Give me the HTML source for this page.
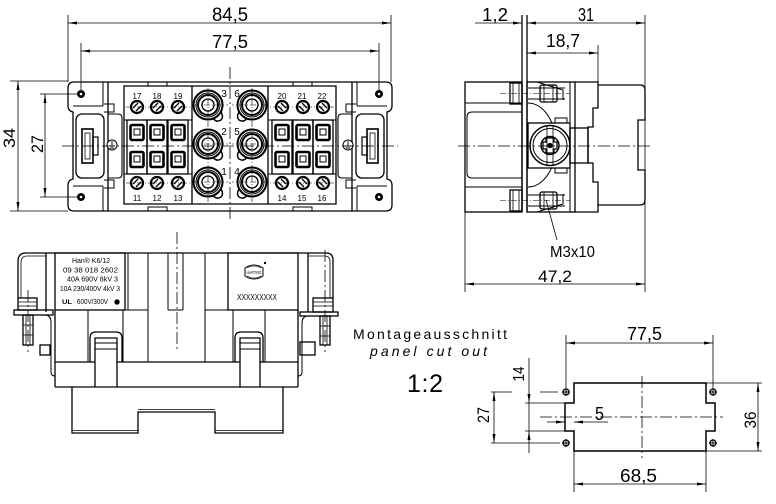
<!DOCTYPE html>
<html><head><meta charset="utf-8"><style>
html,body{margin:0;padding:0;background:#fff;}
svg{display:block}
text{font-family:"Liberation Sans",sans-serif;fill:#000;stroke:none}
</style></head><body>
<svg width="776" height="504" viewBox="0 0 776 504" xmlns="http://www.w3.org/2000/svg">
<defs>
<marker id="a" viewBox="0 0 9 3" refX="9" refY="1.5" markerWidth="9" markerHeight="3" markerUnits="userSpaceOnUse" orient="auto-start-reverse"><path d="M0,0L9,1.5L0,3z" fill="#000"/></marker>

<g id="h" fill="none" stroke="#000">
 <path stroke-width="1.3" d="M230,82 H74 Q68,82 68,88 V106 Q68,111 73,112 V179 Q68,180 68,185 V205 Q68,211 74,211 H230"/>
 <line x1="108" y1="82" x2="108" y2="211" stroke-width="1.3"/>
 <path stroke-width="1" d="M103,82 V106 M103,186 V211 M73,106 H103 M73,186 H103"/>
 <rect x="76" y="114" width="28" height="64" rx="6" stroke-width="1.3"/>
 <rect x="82" y="129" width="11" height="34" stroke-width="1.6"/>
 <rect x="85" y="133" width="5" height="26" stroke-width="0.8"/>
 <rect x="93" y="137" width="5" height="18" stroke-width="1.2"/>
 <path stroke-width="1" d="M104,104 H114 V112 H104 M104,180 H114 V188 H104"/>
 <path stroke-width="1.1" d="M108,114 H118 Q122,114 122,118 V174 Q122,178 118,178 H108"/>
 <circle cx="112" cy="145" r="5" fill="#fff" stroke-width="1"/>
 <path stroke-width="0.9" d="M112,141 V146 M109,146 H115 M110,148 H114"/>
 <circle cx="81" cy="94" r="4" fill="#000" stroke="none"/>
 <circle cx="81" cy="94" r="1.3" fill="#fff" stroke="none"/>
 <circle cx="81" cy="197" r="4" fill="#000" stroke="none"/>
 <circle cx="81" cy="197" r="1.3" fill="#fff" stroke="none"/>
 <rect x="148" y="82" width="19" height="4" stroke-width="1"/>
 <rect x="148" y="207" width="19" height="4" stroke-width="1"/>
 <path stroke-width="1.3" d="M230,86 H124 V204 H230 M192,86 V204"/>
 <path stroke-width="1" d="M124,120 H192 M124,174 H192"/>
 <path stroke-width="0.6" stroke-dasharray="6 2 1 2" d="M126,107 H190 M126,183 H190"/>
 <g stroke-width="1.3">
  <rect x="127" y="120" width="20" height="54"/>
  <rect x="147" y="120" width="20" height="54"/>
  <rect x="168" y="120" width="20" height="54"/>
 </g>
 <g stroke-width="2.6">
  <rect x="130.5" y="125" width="13" height="15" rx="1.5"/>
  <rect x="130.5" y="152" width="13" height="15" rx="1.5"/>
  <rect x="150.5" y="125" width="13" height="15" rx="1.5"/>
  <rect x="150.5" y="152" width="13" height="15" rx="1.5"/>
  <rect x="171.5" y="125" width="13" height="15" rx="1.5"/>
  <rect x="171.5" y="152" width="13" height="15" rx="1.5"/>
 </g>
 <g stroke-width="1">
  <rect x="134" y="129" width="6" height="6"/><rect x="134" y="156" width="6" height="6"/>
  <rect x="154" y="129" width="6" height="6"/><rect x="154" y="156" width="6" height="6"/>
  <rect x="175" y="129" width="6" height="6"/><rect x="175" y="156" width="6" height="6"/>
 </g>
 <g stroke-width="2.2">
  <circle cx="137" cy="107" r="6"/><circle cx="157" cy="107" r="6"/><circle cx="178" cy="107" r="6"/>
  <circle cx="137" cy="183" r="6"/><circle cx="157" cy="183" r="6"/><circle cx="178" cy="183" r="6"/>
 </g>
 <g stroke-width="1.4">
  <path d="M133,108 L138,103 M136,111 L141,106 M153,108 L158,103 M156,111 L161,106 M174,108 L179,103 M177,111 L182,106"/>
  <path d="M133,184 L138,179 M136,187 L141,182 M153,184 L158,179 M156,187 L161,182 M174,184 L179,179 M177,187 L182,182"/>
 </g>
 <path stroke-width="0.6" stroke-dasharray="6 2 1 2" d="M193,105 H228 M193,144 H228 M193,182 H228 M208,88 V202"/>
 <g>
  <circle cx="208" cy="105" r="14.5" stroke-width="2"/><circle cx="208" cy="105" r="12" stroke-width="1"/><circle cx="208" cy="105" r="10" stroke-width="2"/><circle cx="208" cy="105" r="6" stroke-width="1.3"/>
  <path stroke-width="1.5" d="M213,118 q3,5 8,2 q3,-3 0,-8"/>
  <circle cx="208" cy="144" r="14.5" stroke-width="2"/><circle cx="208" cy="144" r="12" stroke-width="1"/><circle cx="208" cy="144" r="10" stroke-width="2"/><circle cx="208" cy="144" r="6" stroke-width="1.3"/>
  <path stroke-width="1.5" d="M213,157 q3,5 8,2 q3,-3 0,-8"/>
  <circle cx="208" cy="182" r="14.5" stroke-width="2"/><circle cx="208" cy="182" r="12" stroke-width="1"/><circle cx="208" cy="182" r="10" stroke-width="2"/><circle cx="208" cy="182" r="6" stroke-width="1.3"/>
  <path stroke-width="1.5" d="M213,195 q3,5 8,2 q3,-3 0,-8"/>
 </g>
</g>
</defs>
<rect width="776" height="504" fill="#fff"/>

<!-- ============ TOP VIEW ============ -->
<use href="#h"/>
<use href="#h" transform="translate(460,0) scale(-1,1)"/>

<g fill="none" stroke="#000" stroke-width="0.8">
 <path d="M68,15 V82 M391,15 V82 M81,43 V90 M379,43 V90 M10,81 H68 M10,211 H68 M40,94 H77 M40,197 H77"/>
 <line x1="68" y1="23" x2="391" y2="23" marker-start="url(#a)" marker-end="url(#a)"/>
 <line x1="81" y1="51" x2="379" y2="51" marker-start="url(#a)" marker-end="url(#a)"/>
 <line x1="18" y1="81" x2="18" y2="211" marker-start="url(#a)" marker-end="url(#a)"/>
 <line x1="45" y1="94" x2="45" y2="197" marker-start="url(#a)" marker-end="url(#a)"/>
 <path stroke-dasharray="12 3 2 3" d="M230,67 V220 M62,146 H398"/>
</g>
<text x="212" y="21" font-size="19" textLength="36" lengthAdjust="spacingAndGlyphs">84,5</text>
<text x="212" y="48" font-size="18" textLength="36" lengthAdjust="spacingAndGlyphs">77,5</text>
<text transform="translate(15,138) rotate(-90)" text-anchor="middle" font-size="17" textLength="20" lengthAdjust="spacingAndGlyphs">34</text>
<text transform="translate(43,144) rotate(-90)" text-anchor="middle" font-size="17" textLength="18" lengthAdjust="spacingAndGlyphs">27</text>
<g font-size="8" text-anchor="middle">
 <text x="137" y="99">17</text><text x="157" y="99">18</text><text x="178" y="99">19</text>
 <text x="282" y="99">20</text><text x="302" y="99">21</text><text x="322" y="99">22</text>
 <text x="137" y="201">11</text><text x="157" y="201">12</text><text x="178" y="201">13</text>
 <text x="282" y="201">14</text><text x="302" y="201">15</text><text x="322" y="201">16</text>
</g>
<g font-size="10" text-anchor="middle">
 <text x="224" y="97">3</text><text x="237" y="97">6</text>
 <text x="224" y="135">2</text><text x="237" y="135">5</text>
 <text x="224" y="175">1</text><text x="237" y="175">4</text>
</g>

<!-- ============ SIDE VIEW ============ -->
<g fill="none" stroke="#000" stroke-width="1.3">
 <rect x="465" y="82" width="57" height="130"/>
 <path stroke-width="1" d="M465,103 H522 M522,112 H472 Q467,112 467,117 V173 Q467,178 472,178 H522 M465,187 H522"/>
 <path d="M522,15 V212 M527,15 V212"/>
 <rect x="527" y="82" width="48" height="130"/>
 <line x1="570" y1="82" x2="570" y2="212" stroke-width="1"/>
 <rect x="510" y="83" width="12" height="21"/>
 <path stroke-width="0.8" d="M513,83 V104 M519,83 V104"/>
 <path stroke-width="1" d="M528,88 H565 M528,99 H565"/>
 <rect x="540" y="85" width="17" height="17" rx="2"/>
 <path stroke-width="0.8" d="M544,85 V102 M553,85 V102"/>
 <path stroke-width="1" d="M537,82 L563,90 V100"/>
 <rect x="510" y="190" width="12" height="21"/>
 <path stroke-width="0.8" d="M513,190 V211 M519,190 V211"/>
 <path stroke-width="1" d="M528,195 H565 M528,206 H565"/>
 <rect x="540" y="192" width="17" height="17" rx="2"/>
 <path stroke-width="0.8" d="M544,192 V209 M553,192 V209"/>
 <path stroke-width="1" d="M537,212 L563,204 V194"/>
 <path stroke-width="0.6" stroke-dasharray="6 2 1 2" d="M500,93.5 H570 M500,200.5 H570"/>
 <path stroke-width="1" d="M528,103 A28,42 0 0 1 528,187"/>
 <rect x="528" y="123" width="42" height="45" fill="#fff"/>
 <circle cx="550" cy="145.5" r="20" stroke-width="1.5"/>
 <circle cx="550" cy="145.5" r="17" stroke-width="1"/>
 <circle cx="550" cy="145.5" r="9" stroke-width="1.4"/>
 <path stroke-width="0.8" d="M547,126 V165 M553,126 V165"/>
 <path stroke-width="1.3" d="M546,138 H554 V142 H557 V149 H554 V153 H546 V149 H543 V142 H546 Z"/>
 <circle cx="550" cy="145.5" r="2" fill="#000"/>
 <rect x="555" y="118" width="12" height="5" stroke-width="1"/>
 <rect x="555" y="168" width="12" height="5" stroke-width="1"/>
 <rect x="570" y="128" width="18" height="35"/>
 <path d="M575,82 H598 V108 H593 V127 H588 V163 H593 V182 H598 V212 H575"/>
 <path d="M598,85 H640 Q645,85 645,90 V120 H638 V170 H645 V200 Q645,205 640,205 H598"/>
</g>
<g fill="none" stroke="#000" stroke-width="0.8">
 <path d="M645,15 V292 M598,45 V82 M465,212 V292"/>
 <line x1="475" y1="23" x2="522" y2="23" marker-end="url(#a)"/>
 <line x1="527" y1="23" x2="645" y2="23" marker-start="url(#a)" marker-end="url(#a)"/>
 <line x1="527" y1="53" x2="598" y2="53" marker-start="url(#a)" marker-end="url(#a)"/>
 <line x1="465" y1="284" x2="645" y2="284" marker-start="url(#a)" marker-end="url(#a)"/>
 <path d="M546,200 L557,240"/>
 <path stroke-dasharray="12 3 2 3" d="M458,146 H653"/>
</g>
<text x="482" y="21" font-size="18" textLength="26" lengthAdjust="spacingAndGlyphs">1,2</text>
<text x="578" y="21" font-size="18" textLength="16" lengthAdjust="spacingAndGlyphs">31</text>
<text x="546" y="47" font-size="18" textLength="34" lengthAdjust="spacingAndGlyphs">18,7</text>
<text x="550" y="257" font-size="16" textLength="45" lengthAdjust="spacingAndGlyphs">M3x10</text>
<text x="538" y="282" font-size="17" textLength="34" lengthAdjust="spacingAndGlyphs">47,2</text>

<!-- ============ FRONT VIEW ============ -->
<g fill="none" stroke="#000" stroke-width="1.3">
 <path d="M46,253 H308"/>
 <path d="M46,253 H26 Q18,253 18,261 V298"/>
 <path stroke-width="0.8" d="M46,256 H27 Q21,256 21,263 V298"/>
 <path d="M308,253 H326 Q333,253 333,260 V298"/>
 <path stroke-width="0.8" d="M308,256 H325 Q330,256 330,262 V298"/>
 <path d="M46,253 V312 M308,253 V312"/>
 <rect x="55" y="253" width="70" height="57"/>
 <rect x="228" y="253" width="70" height="57"/>
 <path stroke-width="1" d="M128,253 V310 M148,253 V362 M168,253 V310 M183,253 V310 M205,253 V362 M125,310 H148 M168,310 H183 M205,310 H228"/>
 <path d="M55,310 V387 M298,310 V387 M55,387 H298 M55,362 H95 M117,362 H240 M260,362 H298"/>
 <path stroke-width="1" d="M88,310 V362 M123,310 V362 M233,310 V362 M265,310 V362"/>
 <path d="M90,362 V338 Q90,332 96,332 H116 Q122,332 122,338 V362"/>
 <path d="M235,362 V338 Q235,332 241,332 H257 Q263,332 263,338 V362"/>
 <path d="M95,387 V338 H117 V387 M240,387 V338 H260 V387"/>
 <path stroke-width="0.9" d="M95,343 H117 M95,349 H117 M240,343 H260 M240,349 H260"/>
 <path d="M72,387 V433 H138 V412 H215 V433 H283 V387"/>
 <path stroke-width="0.8" d="M72,430.5 H138 M215,430.5 H283 M138,409.5 H215"/>
 <rect x="18" y="298" width="19" height="12"/>
 <path stroke-width="0.8" d="M18,302 H37 M18,306 H37"/>
 <rect x="14" y="310" width="39" height="5"/>
 <rect x="23" y="315" width="10" height="30"/>
 <path stroke-width="0.8" d="M26,315 V345 M30,315 V345 M23,325 H33 M23,335 H33"/>
 <rect x="40" y="345" width="10" height="10"/>
 <path stroke-width="1" d="M46,315 Q51,316 51,322 V372 Q51,376 55,376"/>
 <rect x="313" y="298" width="20" height="14"/>
 <path stroke-width="0.8" d="M313,302 H333 M313,306 H333"/>
 <rect x="300" y="312" width="38" height="4"/>
 <rect x="320" y="316" width="10" height="29"/>
 <path stroke-width="0.8" d="M323,316 V345 M327,316 V345 M320,326 H330 M320,336 H330"/>
 <rect x="300" y="342" width="15" height="13"/>
 <path stroke-width="1" d="M307,316 Q302,317 302,323 V372 Q302,376 298,376"/>
</g>
<g fill="none" stroke="#000" stroke-width="0.8" stroke-dasharray="12 3 2 3">
 <path d="M177,232 V352 M28,290 V352 M325,250 V352"/>
</g>
<g font-size="7" text-anchor="middle">
 <text x="91" y="263" textLength="38" lengthAdjust="spacingAndGlyphs">Han® K6/12</text>
 <text x="90.5" y="272.5" textLength="55" lengthAdjust="spacingAndGlyphs">09 38 018 2602</text>
 <text x="92.5" y="281.5" textLength="51" lengthAdjust="spacingAndGlyphs">40A 690V 8kV 3</text>
 <text x="90" y="291" textLength="60" lengthAdjust="spacingAndGlyphs">10A 230/400V 4kV 3</text>
 <text x="92.5" y="304" textLength="31" lengthAdjust="spacingAndGlyphs">600V/300V</text>
</g>
<text x="62" y="304" font-size="6" font-weight="bold" textLength="10" lengthAdjust="spacingAndGlyphs">UL</text>
<circle cx="117" cy="302" r="2.7" fill="#000"/>
<g fill="none" stroke="#000" stroke-width="1">
 <path d="M245,268 Q254,262 263,268 V276 Q254,282 245,276 Z"/>
 <path stroke-width="0.6" d="M247,268 Q254,264 261,268 M247,276 Q254,280 261,276"/>
</g>
<circle cx="265" cy="263" r="1.2" fill="#000"/>
<text x="254" y="274" font-size="4.5" text-anchor="middle" textLength="15" lengthAdjust="spacingAndGlyphs">HARTING</text>
<text x="237" y="300" font-size="8.5" textLength="40" lengthAdjust="spacingAndGlyphs">XXXXXXXXX</text>

<!-- ============ PANEL CUT OUT ============ -->
<text x="353" y="339" font-size="14" textLength="154" lengthAdjust="spacing">Montageausschnitt</text>
<text x="370" y="356" font-size="14" font-style="italic" textLength="117" lengthAdjust="spacing">panel cut out</text>
<text x="407" y="392" font-size="25" textLength="36" lengthAdjust="spacing">1:2</text>

<g fill="none" stroke="#000">
 <path stroke-width="1.5" d="M574,383 H706 V403 H715 V431 H706 V451 H574 V431 H565 V403 H574 Z"/>
 <g stroke-width="1.3">
  <circle cx="566" cy="392" r="3"/><circle cx="566" cy="443" r="3"/>
  <circle cx="713" cy="392" r="3"/><circle cx="713" cy="443" r="3"/>
 </g>
 <path stroke-width="0.9" d="M562,392 H570 M566,388 V396 M562,443 H570 M566,439 V447 M709,392 H717 M713,388 V396 M709,443 H717 M713,439 V447"/>
 <g stroke-width="0.8">
  <path stroke-dasharray="12 3 2 3" d="M540,417 H723 M642,376 V458"/>
  <path d="M566,335 V388 M713,335 V388 M574,451 V492 M706,451 V492 M706,383 H762 M706,451 H762"/>
  <path d="M491,392 H512 M540,392 H558 M491,443 H560 M525,403 H565 M525,431 H565"/>
  <line x1="566" y1="343" x2="713" y2="343" marker-start="url(#a)" marker-end="url(#a)"/>
  <line x1="574" y1="484" x2="706" y2="484" marker-start="url(#a)" marker-end="url(#a)"/>
  <line x1="758" y1="383" x2="758" y2="451" marker-start="url(#a)" marker-end="url(#a)"/>
  <line x1="494" y1="392" x2="494" y2="443" marker-start="url(#a)" marker-end="url(#a)"/>
  <line x1="529" y1="358" x2="529" y2="403" marker-end="url(#a)"/>
  <line x1="529" y1="453" x2="529" y2="431" marker-end="url(#a)"/>
  <line x1="529" y1="403" x2="529" y2="431"/>
  <line x1="547" y1="422" x2="565" y2="422" marker-end="url(#a)"/>
  <line x1="608" y1="422" x2="574" y2="422" marker-end="url(#a)"/>
 </g>
</g>
<text x="627" y="340" font-size="18" textLength="35" lengthAdjust="spacingAndGlyphs">77,5</text>
<text x="620" y="482" font-size="18" textLength="37" lengthAdjust="spacingAndGlyphs">68,5</text>
<text x="595" y="420" font-size="18" textLength="9" lengthAdjust="spacingAndGlyphs">5</text>
<text transform="translate(756,420) rotate(-90)" text-anchor="middle" font-size="17" textLength="17" lengthAdjust="spacingAndGlyphs">36</text>
<text transform="translate(489,415) rotate(-90)" text-anchor="middle" font-size="17" textLength="16" lengthAdjust="spacingAndGlyphs">27</text>
<text transform="translate(524,374) rotate(-90)" text-anchor="middle" font-size="16" textLength="15" lengthAdjust="spacingAndGlyphs">14</text>
</svg>
</body></html>
